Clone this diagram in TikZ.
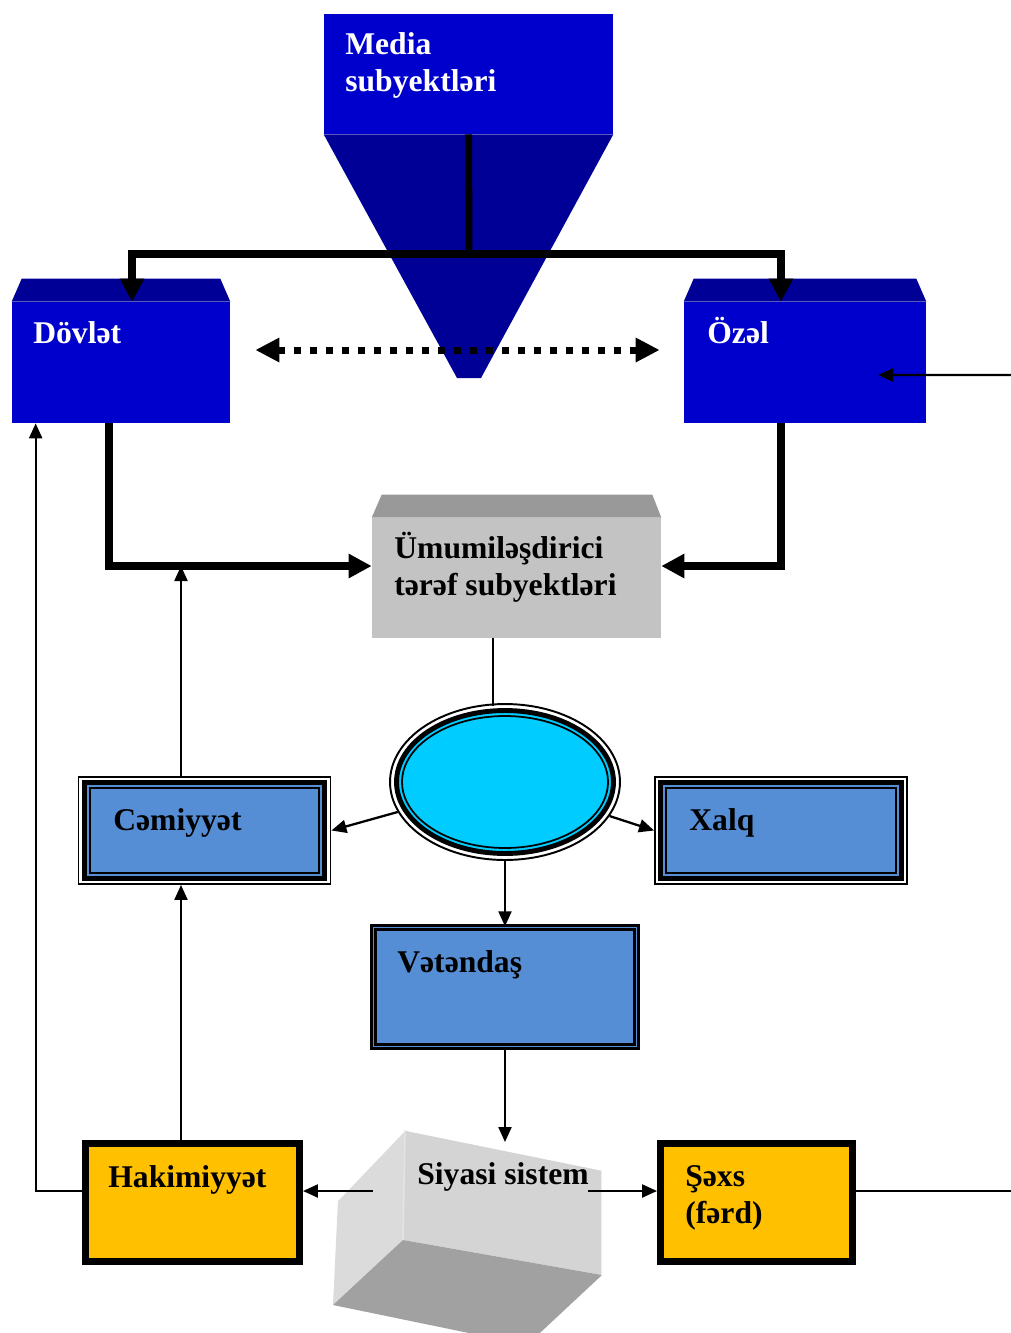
\documentclass[tikz,border=0pt]{standalone}
\usepackage{fontspec}
\setmainfont{Liberation Serif}
\usetikzlibrary{arrows.meta,shapes.geometric,positioning}

\definecolor{mediablau}{RGB}{0,0,204}
\definecolor{dunkelblau}{RGB}{0,0,150}
\definecolor{hellgrau}{RGB}{195,195,195}
\definecolor{mittelgrau}{RGB}{153,153,153}
\definecolor{kastenblau}{RGB}{85,142,213}
\definecolor{cyanblau}{RGB}{0,204,255}
\definecolor{goldgelb}{RGB}{255,192,0}

\tikzset{
	beschriftung/.style={anchor=base west, inner sep=0pt, align=left,
		font=\fontsize{18}{21}\selectfont\bfseries},
	dicker strich/.style={line width=4pt},
	dicker pfeil/.style={line width=4pt, -{Triangle[length=0.46cm, width=0.46cm]}},
	punkt pfeil/.style={line width=0.14cm, dash pattern=on 0.14cm off 0.18cm,
		{Triangle[length=0.48cm, width=0.46cm]}-{Triangle[length=0.48cm, width=0.46cm]}},
	duenn/.style={line width=1.3pt},
	duenner pfeil/.style={line width=1.3pt, -{Triangle[length=0.3cm, width=0.26cm]}},
	dreifach/.style={rectangle, draw=black, line width=1.1pt, fill=white,
		minimum width=5.04cm, minimum height=2.14cm},
	goldkasten/.style={rectangle, draw=black, line width=4pt, fill=goldgelb,
		minimum height=2.36cm}
}

\begin{document}
\begin{tikzpicture}[x=0.02cm, y=-0.02cm]
	\useasboundingbox (0,0) rectangle (1011,1333);

	% Media oben
	\node[fill=mediablau, minimum width=5.78cm, minimum height=2.4cm] (media) at (468.5,74) {};
	\fill[dunkelblau] (media.south west) -- (media.south east) -- (481,378) -- (457,378) -- cycle;

	% Dövlət und Özəl
	\node[fill=mediablau, minimum width=4.36cm, minimum height=2.42cm] (dovlet) at (121,362.5) {};
	\node[fill=mediablau, minimum width=4.84cm, minimum height=2.42cm] (ozel) at (805,362.5) {};
	\foreach \k in {dovlet,ozel}
		\fill[dunkelblau] (\k.north west) -- ([shift={(10,-23)}]\k.north west)
		-- ([shift={(-10,-23)}]\k.north east) -- (\k.north east) -- cycle;

	% Ümumiləşdirici
	\node[fill=hellgrau, minimum width=5.78cm, minimum height=2.4cm] (umumi) at (516.5,578) {};
	\fill[mittelgrau] (umumi.north west) -- ([shift={(10,-23)}]umumi.north west)
	-- ([shift={(-9,-23)}]umumi.north east) -- (umumi.north east) -- cycle;

	% Ellipse
	\node[ellipse, draw=black, line width=1.1pt, fill=white, minimum width=4.6cm,
		minimum height=3.12cm] (hub) at (505,782) {};
	\draw[line width=2.8pt, fill=cyanblau] (hub.center) ellipse [x radius=2.17cm, y radius=1.43cm];
	\draw[line width=1pt] (hub.center) ellipse [x radius=2.06cm, y radius=1.32cm];

	% Cəmiyyət und Xalq
	\node[dreifach] (cam) at (204.5,830.5) {};
	\node[dreifach] (xalq) at (781,830.5) {};
	\foreach \k in {cam,xalq} {
		\draw[line width=2.8pt, fill=kastenblau] ([shift={(6.5,6.5)}]\k.north west)
		rectangle ([shift={(-6.5,-6.5)}]\k.south east);
		\draw[line width=1.1pt] ([shift={(12,12)}]\k.north west)
		rectangle ([shift={(-12,-12)}]\k.south east);
	}

	% Vətəndaş
	\node[draw=black, line width=1.4pt, double=kastenblau, double distance=1.1pt,
		fill=kastenblau, minimum width=5.26cm, minimum height=2.38cm] (vatan) at (505,987) {};

	% Siyasi sistem
	\fill[black!14] (405,1130) -- (403,1240) -- (333,1305) -- (338,1200) -- cycle;
	\fill[black!17] (405,1130) -- (602,1170) -- (602,1275) -- (403,1240) -- cycle;
	\fill[black!37] (403,1240) -- (602,1275) -- (527,1345) -- (333,1305) -- cycle;
	\draw[white, line width=0.8pt] (338,1200) -- (405,1130) -- (602,1170) -- (602,1275);
	\draw[white!90!black, line width=0.8pt] (405,1130) -- (403,1240);
	\coordinate (sysT) at (505,1142);
	\coordinate (sysL) at (373,1191);
	\coordinate (sysR) at (588,1191);

	% Hakimiyyət und Şəxs
	\node[goldkasten, minimum width=4.28cm] (hakim) at (192.5,1202.5) {};
	\node[goldkasten, minimum width=3.84cm] (saxs) at (756.5,1202.5) {};

	% Texte
	\node[beschriftung, text=white] (tmedia) at (345,91) {Media\\subyektləri};
	\node[beschriftung, text=white] (tdovlet) at (33,343) {Dövlət};
	\node[beschriftung, text=white] (tozel) at (707,343) {Özəl};
	\node[beschriftung] (tumumi) at (394,595) {Ümumiləşdirici\\tərəf subyektləri};
	\node[beschriftung] (tcam) at (113,830) {Cəmiyyət};
	\node[beschriftung] (txalq) at (689,830) {Xalq};
	\node[beschriftung] (tvatan) at (397,972) {Vətəndaş};
	\node[beschriftung] (tsiyasi) at (417,1184) {Siyasi sistem};
	\node[beschriftung] (thakim) at (108,1187) {Hakimiyyət};
	\node[beschriftung] (tsaxs) at (685,1223) {Şəxs\\(fərd)};

	% Verbindungen oben
	\coordinate (verzweig) at (469,254);
	\draw[dicker strich] (media.south) -- (verzweig);
	\draw[dicker pfeil] (verzweig) -| ([xshift=0.22cm]dovlet.north);
	\draw[dicker pfeil] (verzweig) -| ([xshift=-0.48cm]ozel.north);
	\draw[punkt pfeil, shorten <=0.5cm, shorten >=0.48cm] ([yshift=0.25cm]dovlet.east)
	-- ([yshift=0.25cm]ozel.west);
	\coordinate (rechtsoben) at (1011,375);
	\draw[duenner pfeil] (rechtsoben) -- ([shift={(73,12.5)}]ozel.center);
	\draw[dicker pfeil] ([xshift=-0.24cm]dovlet.south) |- ([yshift=0.24cm]umumi.west);
	\draw[dicker pfeil] ([xshift=-0.48cm]ozel.south) |- ([yshift=0.24cm]umumi.east);

	% Verbindungen Mitte
	\coordinate (mittex) at (493,706);
	\draw[duenn] (umumi.south -| mittex) -- (mittex);
	\draw[duenner pfeil] (hub) -- (cam.east);
	\draw[duenner pfeil] (hub) -- (xalq.west);
	\draw[duenner pfeil] (hub) -- (vatan.north);
	\coordinate (linksx) at (181,566);
	\draw[duenner pfeil] (cam.north -| linksx) -- (linksx);

	% Verbindungen unten
	\coordinate (rechtsunten) at (1011,1191);
	\draw[duenner pfeil] (vatan.south) -- (sysT);
	\draw[duenner pfeil] (sysL) -- (sysL -| hakim.east);
	\draw[duenner pfeil] (sysR) -- (sysR -| saxs.west);
	\draw[duenn] (saxs.east |- sysR) -- (rechtsunten);
	\draw[duenner pfeil] (hakim.north -| linksx) -- (cam.south -| linksx);
	\draw[duenner pfeil] (hakim.west |- sysL) -| ([xshift=0.48cm]dovlet.south west);
\end{tikzpicture}
\end{document}
